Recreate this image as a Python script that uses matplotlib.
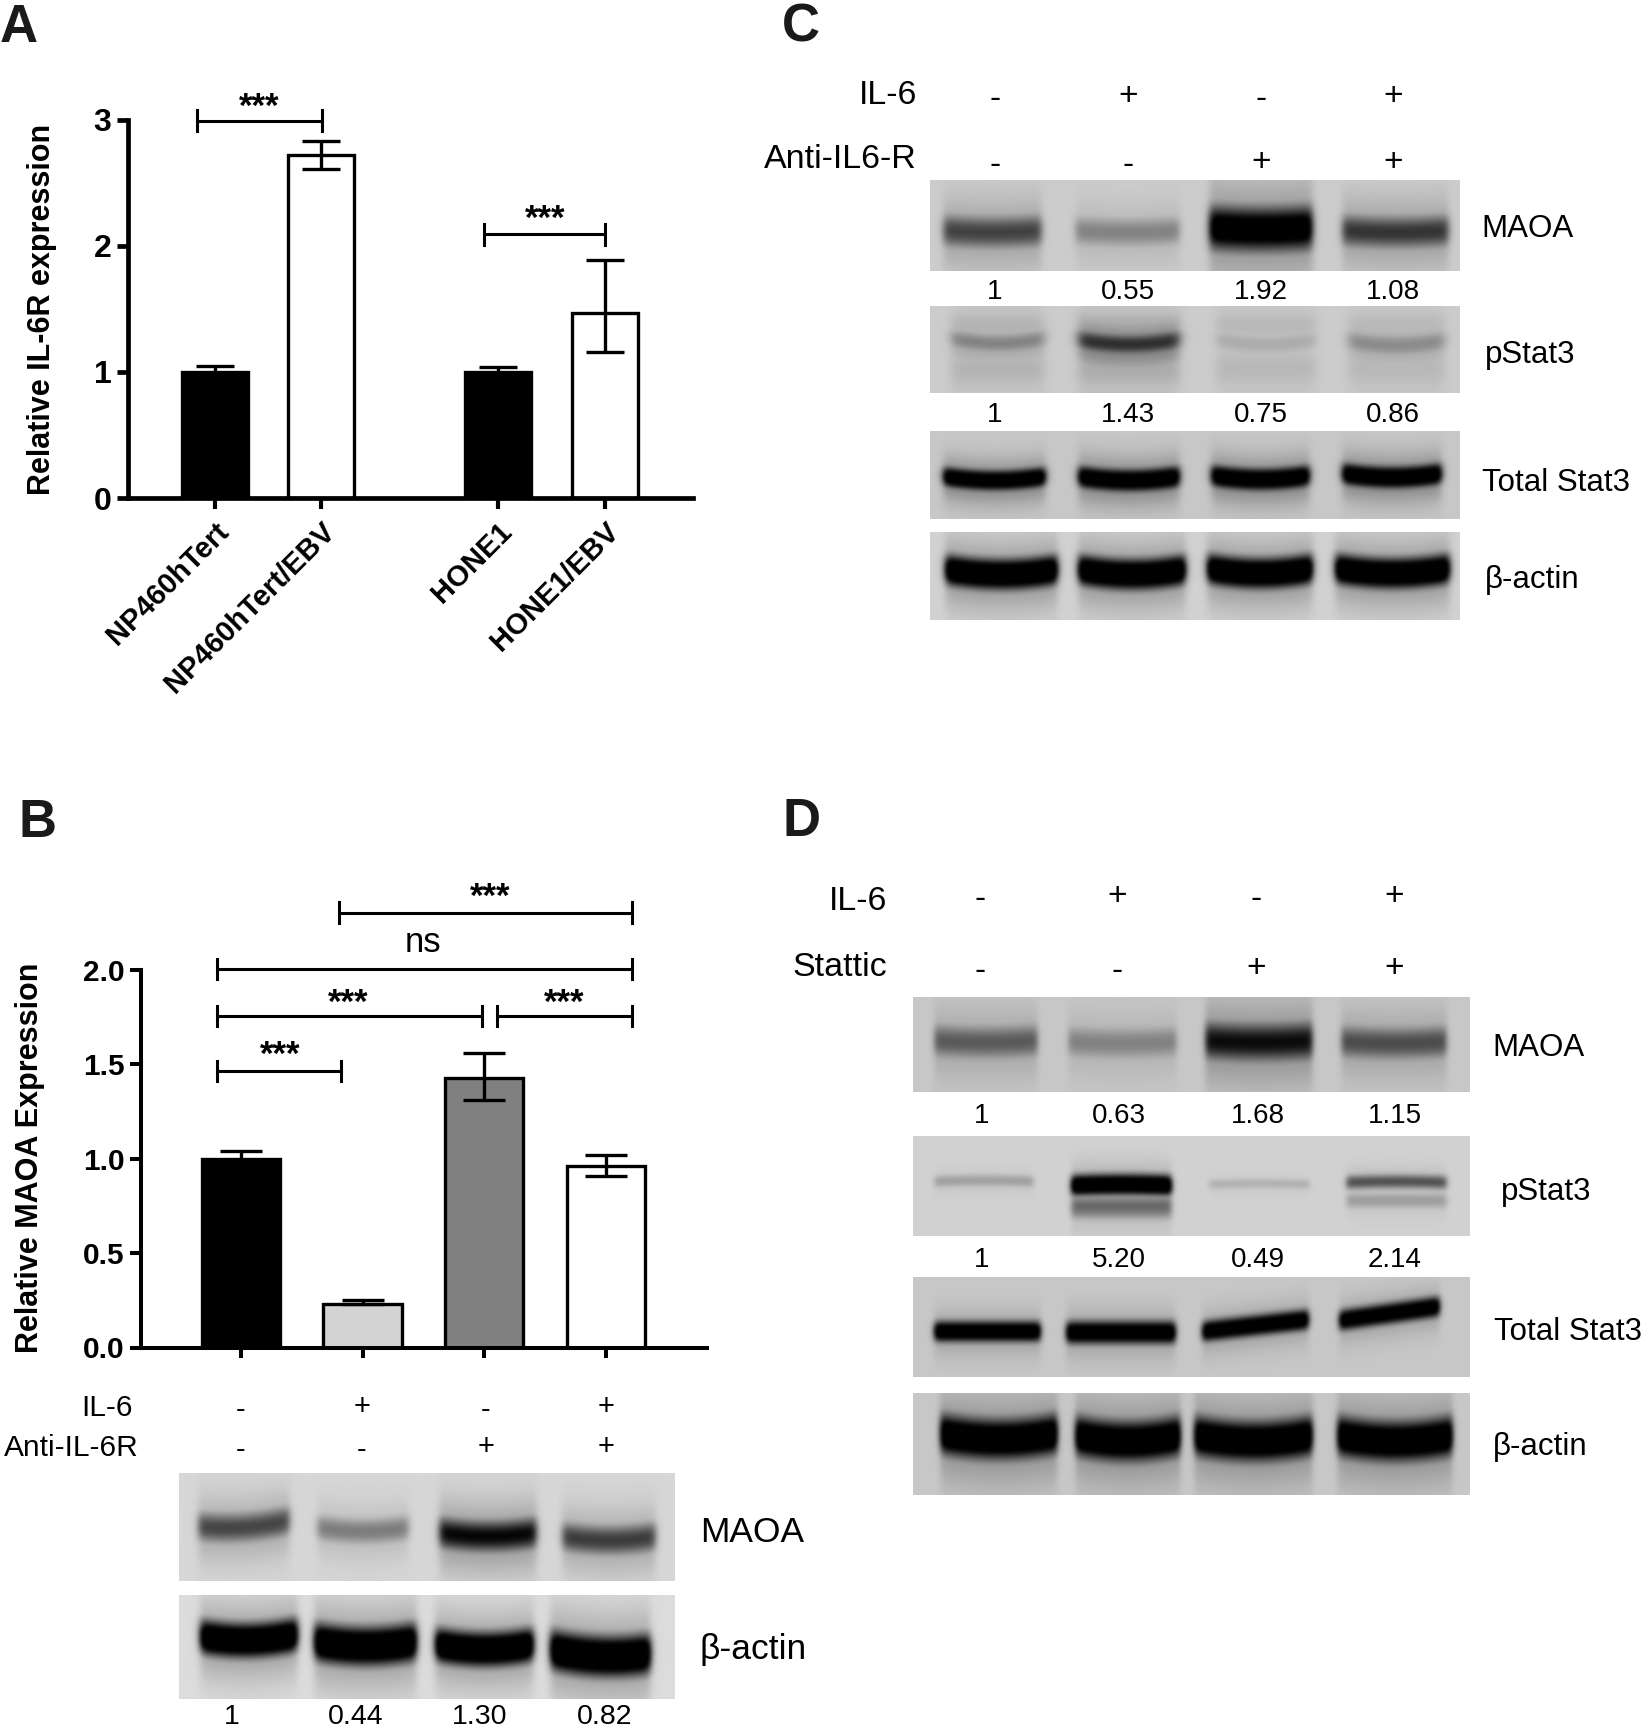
import numpy as np
import matplotlib
matplotlib.use("Agg")
import matplotlib.pyplot as plt

plt.rcParams['font.family'] = ['Liberation Sans', 'DejaVu Sans']

W, H = 1643, 1734

# panel A
a_labels = ["NP460hTert", "NP460hTert/EBV", "HONE1", "HONE1/EBV"]
a_pos = [0, 1, 2.67, 3.68]
a_vals = [1.0, 2.72, 1.0, 1.47]
a_err_up = [0.05, 0.11, 0.04, 0.42]
a_err_lo = [0.05, 0.11, 0.04, 0.31]
a_colors = ["black", "white", "black", "white"]
a_br_left = [-0.17, 2.54]
a_br_right = [1.01, 3.68]
a_br_y = [2.99, 2.09]

# panel B
b_pos = [0, 1, 2, 3]
b_vals = [1.0, 0.23, 1.43, 0.96]
b_err_up = [0.04, 0.02, 0.13, 0.06]
b_err_lo = [0.04, 0.0, 0.12, 0.05]
b_colors = ["black", "#d3d3d3", "#808080", "white"]
b_br_left = [0.81, -0.20, -0.20, 2.105, -0.20]
b_br_right = [3.215, 3.215, 1.98, 3.215, 0.82]
b_br_y = [2.304, 2.005, 1.756, 1.756, 1.465]
b_star_x = [2.05, 0.88, 2.66, 0.32]
b_star_y = [2.335, 1.775, 1.775, 1.495]
b_il6 = ["-", "+", "-", "+"]
b_anti = ["-", "-", "+", "+"]
b_ratio = ["1", "0.44", "1.30", "0.82"]

# panel C
c_il6 = ["-", "+", "-", "+"]
c_anti = ["-", "-", "+", "+"]
c_ratio_maoa = ["1", "0.55", "1.92", "1.08"]
c_ratio_pstat = ["1", "1.43", "0.75", "0.86"]

# panel D
d_il6 = ["-", "+", "-", "+"]
d_stattic = ["-", "-", "+", "+"]
d_ratio_maoa = ["1", "0.63", "1.68", "1.15"]
d_ratio_pstat = ["1", "5.20", "0.49", "2.14"]

# band darkness per lane, read by eye from the blots
b_maoa_dark = [0.68, 0.42, 0.98, 0.72]
b_actin_dark = [1.5, 1.5, 1.5, 1.5]
c_maoa_dark = [0.68, 0.36, 1.25, 0.75]
c_pstat_dark = [0.36, 0.78, 0.16, 0.32]
c_pstat_tail = [0.12, 0.16, 0.10, 0.10]
c_total_dark = [1.4, 1.4, 1.4, 1.4]
c_actin_dark = [1.5, 1.5, 1.5, 1.5]
d_maoa_dark = [0.55, 0.35, 0.95, 0.62]
d_pstat_dark = [0.24, 1.5, 0.16, 0.62]
d_pstat_low = [0.0, 0.5, 0.0, 0.25]
d_total_dark = [1.4, 1.4, 1.4, 1.4]
d_actin_dark = [1.4, 1.4, 1.4, 1.4]
flat = [0, 0, 0, 0]


def px_axes(fig, x0, x1, y_top, y_bottom):
    return fig.add_axes([x0/W, 1-y_bottom/H, (x1-x0)/W, (y_bottom-y_top)/H])


def bar_panel(ax, pos, vals, lo, up, colors, width, lw, capsize):
    ax.bar(pos, vals, width=width, color=colors, edgecolor="black", linewidth=lw, zorder=2)
    ax.errorbar(pos, vals, yerr=[lo, up], fmt="none", ecolor="black", elinewidth=lw,
                capsize=capsize, capthick=lw, zorder=3)
    ax.spines["top"].set_visible(False)
    ax.spines["right"].set_visible(False)
    ax.patch.set_alpha(0)


def brackets(ax, left, right, ys, cap, lw):
    for l, r, y in zip(left, right, ys):
        ax.plot([l, r], [y, y], color="black", lw=lw, clip_on=False, zorder=4, solid_capstyle="butt")
        for xx in (l, r):
            ax.plot([xx, xx], [y-cap, y+cap], color="black", lw=lw, clip_on=False, zorder=4)


def smooth(img, n):
    kernel = np.ones(n)/n
    pad = np.pad(img, n, mode="edge")
    pad = np.apply_along_axis(lambda v: np.convolve(v, kernel, mode="same"), 0, pad)
    pad = np.apply_along_axis(lambda v: np.convolve(v, kernel, mode="same"), 1, pad)
    return pad[n:-n, n:-n]


def blot(ov, box, lefts, rights, layers, bg=0.81, soft=4.0, halo=0.3):
    # layers: list of (centre y per lane, half thickness per lane, darkness per lane, tilt, smile)
    x0, x1, y0, y1 = box
    X, Y = np.meshgrid(np.arange(x0, x1), np.arange(y0, y1))
    dens = np.zeros(X.shape)
    for i in range(len(lefts)):
        l, r = lefts[i], rights[i]
        mx = 0.5*(np.tanh((X-l)/soft) - np.tanh((X-r)/soft))
        t = (X-(l+r)/2)/((r-l)/2)
        for ys, hs, ds, tilt, smile in layers:
            yy = ys[i] + tilt[i]*t - smile*t**2
            core = ds[i]*mx*np.exp(-np.abs((Y-yy)/hs[i])**2.2)
            glow = halo*min(ds[i], 1)*mx*np.exp(-((Y-yy-2)/(2.2*hs[i]))**2)
            dens = np.maximum(dens, np.maximum(core, glow))
    img = smooth(bg*(1-np.clip(dens, 0, 1)), 5)
    ov.imshow(img, extent=(x0, x1, y1, y0), cmap="gray", vmin=0, vmax=1,
              aspect="auto", interpolation="bilinear", zorder=1)


fig = plt.figure(figsize=(W/100, H/100), dpi=100)
ov = fig.add_axes([0, 0, 1, 1])
ov.set_axis_off()

# panel A chart
ax_a = px_axes(fig, 128, 693, 119.6, 498)
bar_panel(ax_a, a_pos, a_vals, a_err_lo, a_err_up, a_colors, 0.63, 2.4, 13.5)
ax_a.set_xlim(-0.82, 4.51)
ax_a.set_ylim(0, 3)
ax_a.set_yticks([0, 1, 2, 3])
ax_a.set_xticks(a_pos)
ax_a.set_xticklabels(a_labels, rotation=45, ha="right", rotation_mode="anchor", fontsize=21, fontweight="bold")
ax_a.tick_params(axis="y", width=3.4, length=8, labelsize=23, pad=4)
ax_a.tick_params(axis="x", width=3, length=8, pad=6)
for lab in ax_a.get_yticklabels():
    lab.set_fontweight("bold")
for s in ("left", "bottom"):
    ax_a.spines[s].set_linewidth(3.4)
brackets(ax_a, a_br_left, a_br_right, a_br_y, 0.083, 2.2)
ax_a.text(0.42, 3.02, "***", ha="center", va="baseline", fontsize=25, fontweight="bold", clip_on=False)
ax_a.text(3.12, 2.13, "***", ha="center", va="baseline", fontsize=25, fontweight="bold", clip_on=False)

# panel B chart
ax_b = px_axes(fig, 141, 707, 970, 1347.5)
bar_panel(ax_b, b_pos, b_vals, b_err_lo, b_err_up, b_colors, 0.645, 2.4, 15)
ax_b.set_xlim((141-241)/121.6, (707-241)/121.6)
ax_b.set_ylim(0, 2)
ax_b.set_yticks([0, 0.5, 1.0, 1.5, 2.0])
ax_b.set_yticklabels(["0.0", "0.5", "1.0", "1.5", "2.0"], fontweight="bold")
ax_b.set_xticks(b_pos)
ax_b.set_xticklabels([])
ax_b.tick_params(axis="y", width=2.9, length=8, labelsize=21.5, pad=4)
ax_b.tick_params(axis="x", width=2.9, length=7)
for s in ("left", "bottom"):
    ax_b.spines[s].set_linewidth(2.9)
brackets(ax_b, b_br_left, b_br_right, b_br_y, 0.055, 2.2)
for sx, sy in zip(b_star_x, b_star_y):
    ax_b.text(sx, sy, "***", ha="center", va="baseline", fontsize=25, fontweight="bold", clip_on=False)
ax_b.text(1.5, 2.095, "ns", ha="center", va="baseline", fontsize=25, clip_on=False)

# blots, B
b_cols = [241, 362, 486, 606]
blot(ov, (179, 675, 1473, 1581), [198, 317, 439, 562], [289, 408, 536, 655],
     [([1527, 1531, 1536, 1540], [15, 13, 16, 15], b_maoa_dark, [-3, 0, 0, 0], 4)], bg=0.84)
blot(ov, (179, 675, 1595, 1699), [200, 314, 435, 550], [297, 416, 533, 650],
     [([1640, 1646, 1649, 1656], [17, 19, 17, 20], b_actin_dark, [-1, 0, 0, 2], 5)], bg=0.86)

# blots, C
c_cols = [995, 1128, 1261, 1393]
blot(ov, (930, 1460, 180, 271), [943, 1075, 1209, 1342], [1041, 1179, 1312, 1448],
     [([232, 232, 229, 232], [16, 14, 22, 16], c_maoa_dark, flat, 2)], bg=0.80)
blot(ov, (930, 1460, 306, 393), [951, 1078, 1216, 1348], [1044, 1179, 1315, 1444],
     [([343, 344, 344, 345], [10, 11, 10, 11], c_pstat_dark, flat, 5),
      ([325, 325, 325, 325], [14, 14, 14, 14], c_pstat_tail, flat, 0),
      ([368, 368, 368, 368], [20, 20, 20, 20], c_pstat_tail, flat, 0)], bg=0.80, soft=6, halo=0.5)
blot(ov, (930, 1460, 431, 519), [943, 1078, 1211, 1342], [1045, 1179, 1309, 1441],
     [([480, 480, 479, 477], [10, 11, 11, 11], c_total_dark, flat, 4)], bg=0.78, halo=0.35)
blot(ov, (930, 1460, 532, 620), [945, 1078, 1207, 1335], [1057, 1185, 1312, 1449],
     [([574, 574, 573, 573], [15, 15, 15, 15], c_actin_dark, flat, 5)], bg=0.82)

# blots, D
d_cols = [980, 1117.5, 1256, 1394.6]
blot(ov, (913, 1470, 997, 1092), [934, 1068, 1205, 1341], [1037, 1176, 1312, 1446],
     [([1042, 1043, 1042, 1043], [16, 15, 19, 16], d_maoa_dark, flat, 2)], bg=0.78, soft=3)
blot(ov, (913, 1470, 1136, 1236), [934, 1071, 1209, 1346], [1033, 1171, 1309, 1446],
     [([1180, 1184, 1183, 1181], [6, 10, 5, 7], d_pstat_dark, flat, -1),
      ([1190, 1206, 1190, 1200], [5, 12, 5, 8], d_pstat_low, flat, 0)], bg=0.82, soft=3, halo=0.2)
blot(ov, (913, 1470, 1277, 1377), [934, 1066, 1202, 1339], [1040, 1175, 1308, 1439],
     [([1331, 1332, 1325, 1313], [10, 11, 10, 10], d_total_dark, [0, 0, -6, -7], 0)], bg=0.78, soft=3, halo=0.2)
blot(ov, (913, 1470, 1393, 1495), [940, 1075, 1194, 1337], [1057, 1180, 1312, 1452],
     [([1439, 1441, 1441, 1441], [20, 20, 20, 20], d_actin_dark, flat, 6)], bg=0.78, soft=3)

ov.set_xlim(0, W)
ov.set_ylim(H, 0)

# panel letters
for s, x, y in [("A", 0, 42), ("B", 19, 837), ("C", 782, 42), ("D", 783, 836)]:
    ov.text(x, y, s, fontsize=38, fontweight="bold", color="#1a1a1a", ha="left", va="baseline")

# axis titles
ov.text(42, 309, "Relative IL-6R expression", rotation=90, fontsize=22, fontweight="bold", ha="center", va="center")
ov.text(30, 1158, "Relative MAOA Expression", rotation=90, fontsize=22, fontweight="bold", ha="center", va="center")


def sign_row(cols, signs, y, size=24):
    # the hyphen sits lower than the plus in the figure
    for x, s in zip(cols, signs):
        ov.text(x, y + (3 if s == "-" else 0), s, fontsize=size, ha="center", va="center")


# panel B text
ov.text(133, 1408, "IL-6", fontsize=21.5, ha="right", va="center")
ov.text(139, 1448, "Anti-IL-6R", fontsize=21.5, ha="right", va="center")
sign_row(b_cols, b_il6, 1407, 21)
sign_row(b_cols, b_anti, 1447, 21)
ov.text(700, 1533, "MAOA", fontsize=25.5, ha="left", va="center")
ov.text(700, 1650, "β-actin", fontsize=25.5, ha="left", va="center")
for x, s in zip([232, 356, 480, 605], b_ratio):
    ov.text(x, 1717, s, fontsize=20.5, ha="center", va="center")

# panel C text
ov.text(917, 96, "IL-6", fontsize=24.5, ha="right", va="center")
ov.text(917, 160, "Anti-IL6-R", fontsize=24.5, ha="right", va="center")
sign_row(c_cols, c_il6, 97)
sign_row(c_cols, c_anti, 163)
for s, x, y in [("MAOA", 1481, 229), ("pStat3", 1485, 355), ("Total Stat3", 1482, 483), ("β-actin", 1485, 580)]:
    ov.text(x, y, s, fontsize=22.5, ha="left", va="center")
for x, s in zip(c_cols, c_ratio_maoa):
    ov.text(x, 292, s, fontsize=20, ha="center", va="center")
for x, s in zip(c_cols, c_ratio_pstat):
    ov.text(x, 415, s, fontsize=20, ha="center", va="center")

# panel D text
ov.text(887, 902, "IL-6", fontsize=24.5, ha="right", va="center")
ov.text(887, 968, "Stattic", fontsize=24.5, ha="right", va="center")
sign_row(d_cols, d_il6, 896)
sign_row(d_cols, d_stattic, 969)
for s, x, y in [("MAOA", 1492, 1048), ("pStat3", 1501, 1192), ("Total Stat3", 1494, 1332), ("β-actin", 1493, 1447)]:
    ov.text(x, y, s, fontsize=22.5, ha="left", va="center")
for x, s in zip([982, 1119, 1258, 1395], d_ratio_maoa):
    ov.text(x, 1116, s, fontsize=20, ha="center", va="center")
for x, s in zip([982, 1119, 1258, 1395], d_ratio_pstat):
    ov.text(x, 1260, s, fontsize=20, ha="center", va="center")

fig.savefig("out.png", dpi=100)
plt.close(fig)
